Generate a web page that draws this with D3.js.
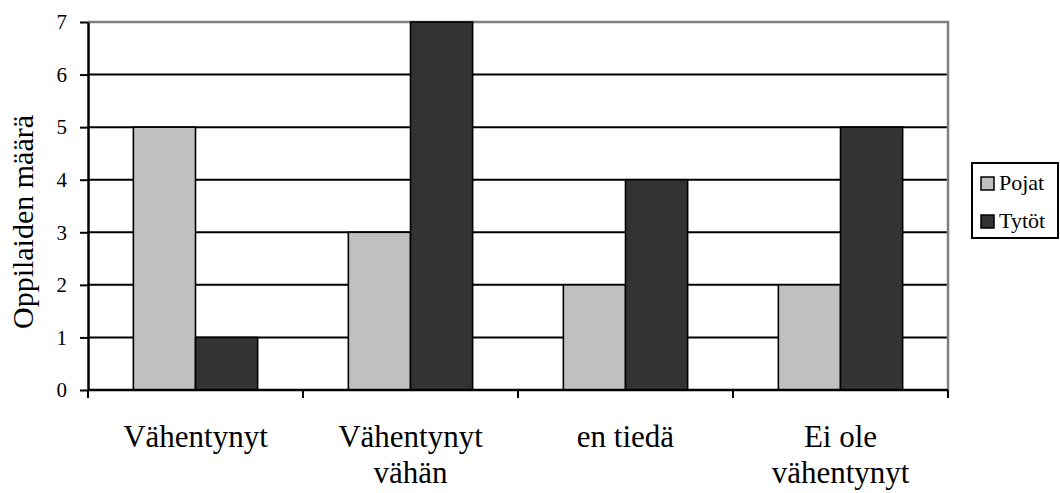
<!DOCTYPE html>
<html>
<head>
<meta charset="utf-8">
<script src="https://cdn.jsdelivr.net/npm/d3@7"></script>
<style>
  html, body { margin: 0; padding: 0; background: #fff; }
  svg { display: block; }
  svg text { font-family: "Liberation Serif", "Times New Roman", serif; }
</style>
</head>
<body>
<svg id="chart" width="1060" height="493"></svg>
<script>
// Oppilaiden määrä vastauksittain, pojat ja tytöt
const categories = [
  ["Vähentynyt"],
  ["Vähentynyt", "vähän"],
  ["en tiedä"],
  ["Ei ole", "vähentynyt"]
];
const seriesNames = ["Pojat", "Tytöt"];
const pojat = [5, 3, 2, 2];
const tytot = [1, 7, 4, 5];
const yTicks = [0, 1, 2, 3, 4, 5, 6, 7];

const seriesValues = [pojat, tytot];
const colors = ["#c0c0c0", "#333333"];
const serif = "'Liberation Serif', 'Times New Roman', serif";

const svg = d3.select("#chart");
const plot = { left: 88, top: 22, right: 948, bottom: 390 };

const x0 = d3.scaleBand()
  .domain(d3.range(categories.length))
  .range([plot.left, plot.right])
  .paddingInner(0).paddingOuter(0);

const x1 = d3.scaleBand()
  .domain(seriesNames)
  .range([0, x0.bandwidth()])
  .paddingInner(0)
  .paddingOuter(0.73);

const y = d3.scaleLinear()
  .domain([0, 7])
  .range([plot.bottom, plot.top]);

// horizontal gridlines
svg.append("g")
  .selectAll("line")
  .data(yTicks.filter(v => v > 0 && v < 7))
  .join("line")
  .attr("x1", plot.left).attr("x2", plot.right)
  .attr("y1", d => y(d)).attr("y2", d => y(d))
  .attr("stroke", "#000").attr("stroke-width", 2);

// plot frame: grey top and right edges
svg.append("path")
  .attr("d", `M${plot.left},${y(7)}H${plot.right}V${plot.bottom}`)
  .attr("fill", "none")
  .attr("stroke", "#808080")
  .attr("stroke-width", 2.5);

// bars
const groups = svg.append("g")
  .selectAll("g")
  .data(categories.map((c, i) => i))
  .join("g")
  .attr("transform", i => `translate(${x0(i)},0)`);

groups.selectAll("rect")
  .data(i => seriesNames.map((s, k) => ({ s, k, v: seriesValues[k][i] })))
  .join("rect")
  .attr("x", d => x1(d.s))
  .attr("width", x1.bandwidth())
  .attr("y", d => y(d.v))
  .attr("height", d => y(0) - y(d.v))
  .attr("fill", d => colors[d.k])
  .attr("stroke", "#000")
  .attr("stroke-width", 1.6);

// y axis
const yAxis = svg.append("g")
  .attr("transform", `translate(${plot.left},0)`)
  .call(d3.axisLeft(y).tickValues(yTicks).tickFormat(d3.format("d"))
    .tickSize(8).tickPadding(13).tickSizeOuter(0))
  .attr("font-family", serif)
  .attr("font-size", 21);
yAxis.select(".domain").attr("stroke", "#000").attr("stroke-width", 2.5);
yAxis.selectAll(".tick line").attr("stroke", "#000").attr("stroke-width", 2);
yAxis.selectAll(".tick text").attr("fill", "#000");

// x axis with ticks at category boundaries
const xAxisG = svg.append("g");
xAxisG.append("line")
  .attr("x1", plot.left).attr("x2", plot.right)
  .attr("y1", plot.bottom).attr("y2", plot.bottom)
  .attr("stroke", "#000").attr("stroke-width", 2.5);
const boundaries = d3.range(categories.length + 1).map(i =>
  i < categories.length ? x0(i) : x0(i - 1) + x0.bandwidth());
xAxisG.selectAll("line.tick")
  .data(boundaries)
  .join("line")
  .attr("class", "tick")
  .attr("x1", d => d).attr("x2", d => d)
  .attr("y1", plot.bottom).attr("y2", plot.bottom + 8)
  .attr("stroke", "#000").attr("stroke-width", 2);

// category labels
const labels = svg.append("g")
  .selectAll("text")
  .data(categories.map((c, i) => ({ c, i })))
  .join("text")
  .attr("text-anchor", "middle")
  .attr("font-family", serif)
  .attr("font-size", 31)
  .attr("fill", "#000")
  .attr("x", d => x0(d.i) + x0.bandwidth() / 2)
  .attr("y", plot.bottom + 57);
labels.selectAll("tspan")
  .data(d => d.c.map((t, j) => ({ t, j, x: x0(d.i) + x0.bandwidth() / 2 })))
  .join("tspan")
  .attr("x", d => d.x)
  .attr("dy", d => d.j === 0 ? 0 : 36)
  .text(d => d.t);

// y-axis title
svg.append("text")
  .attr("transform", `translate(33,${(plot.top + plot.bottom) / 2 + 16}) rotate(-90)`)
  .attr("text-anchor", "middle")
  .attr("font-family", serif)
  .attr("font-size", 30)
  .attr("fill", "#000")
  .text("Oppilaiden määrä");

// legend
const legend = svg.append("g").attr("transform", "translate(972,163)");
legend.append("rect")
  .attr("width", 86).attr("height", 75)
  .attr("fill", "#fff").attr("stroke", "#000").attr("stroke-width", 2);
const items = legend.selectAll("g.item")
  .data(seriesNames)
  .join("g")
  .attr("class", "item")
  .attr("transform", (d, i) => `translate(0,${20 + i * 38})`);
items.append("rect")
  .attr("x", 9).attr("y", -6)
  .attr("width", 13).attr("height", 13)
  .attr("fill", (d, i) => colors[i])
  .attr("stroke", "#000").attr("stroke-width", 1.5);
items.append("text")
  .attr("x", 27).attr("y", 7)
  .attr("font-family", serif)
  .attr("font-size", 22)
  .attr("fill", "#000")
  .text(d => d);
</script>
</body>
</html>
